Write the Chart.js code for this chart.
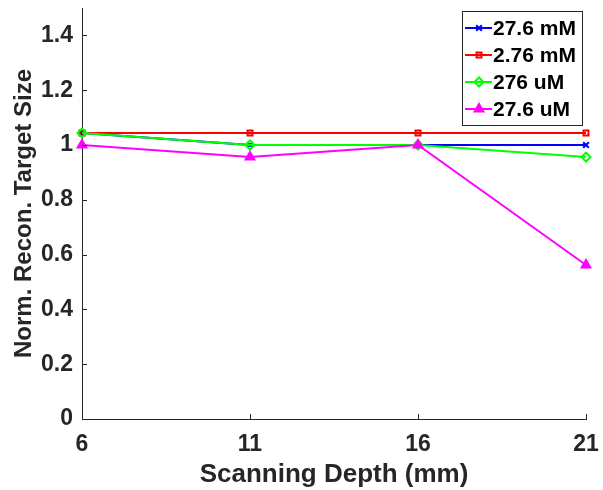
<!DOCTYPE html>
<html>
<head>
<meta charset="utf-8">
<script src="https://cdn.jsdelivr.net/npm/chart.js@4.4.1/dist/chart.umd.min.js"></script>
<style>
  html, body { margin: 0; padding: 0; background: #fff; }
  #wrap { width: 603px; height: 490px; }
</style>
</head>
<body>
<div id="wrap"><canvas id="myChart" width="603" height="490"></canvas></div>
<script>
// data
var depths = [6, 11, 16, 21];
var s276mM = [1.044, 1.0, 1.0, 1.0];
var s276mMb = [1.044, 1.044, 1.044, 1.044];
var s276uM = [1.044, 1.0, 1.0, 0.956];
var s276uMb = [1.0, 0.956, 1.0, 0.562];
var seriesNames = ["27.6 mM", "2.76 mM", "276 uM", "27.6 uM"];
var xTicks = [6, 11, 16, 21];
var yTicks = [0, 0.2, 0.4, 0.6, 0.8, 1, 1.2, 1.4];

var axisColor = "#262626";
var fontFam = "'Liberation Sans', Arial, sans-serif";

function pts(vals) {
  return vals.map(function (v, i) { return { x: depths[i], y: v }; });
}

var styles = [
  { color: "#0000ff", point: "crossRot", radius: 4, fill: false },
  { color: "#ff0000", point: "rect", radius: 3.5, fill: false },
  { color: "#00ff00", point: "rectRot", radius: 4.5, fill: false },
  { color: "#ff00ff", point: "triangle", radius: 5, fill: true },
];
var values = [s276mM, s276mMb, s276uM, s276uMb];

// later series drawn on top, like matlab
var datasets = values.map(function (vals, i) {
  var st = styles[i];
  return {
    label: seriesNames[i],
    data: pts(vals),
    order: -i,
    borderColor: st.color,
    backgroundColor: st.fill ? st.color : "#ffffff",
    pointBorderColor: st.color,
    pointBackgroundColor: st.fill ? st.color : "rgba(0,0,0,0)",
    pointStyle: st.point,
    pointRadius: st.radius,
    pointBorderWidth: 2,
    borderWidth: 2,
    tension: 0,
    clip: false,
  };
});

// inward tick marks like matlab
var innerTicks = {
  id: "innerTicks",
  afterDraw: function (chart) {
    var c = chart.ctx;
    var xs = chart.scales.x, ys = chart.scales.y;
    var a = chart.chartArea;
    c.save();
    c.strokeStyle = axisColor;
    c.lineWidth = 1;
    c.beginPath();
    xTicks.forEach(function (t) {
      var px = Math.round(xs.getPixelForValue(t)) + 0.5;
      c.moveTo(px, a.bottom);
      c.lineTo(px, a.bottom - 5);
    });
    yTicks.forEach(function (t) {
      var py = Math.round(ys.getPixelForValue(t)) + 0.5;
      c.moveTo(a.left, py);
      c.lineTo(a.left + 5, py);
    });
    c.stroke();
    c.restore();
  },
};

// boxed legend inside the plot, top right
var boxLegend = {
  id: "boxLegend",
  afterDraw: function (chart) {
    var c = chart.ctx;
    var x0 = 462, y0 = 11, w = 120, h = 114;
    c.save();
    c.fillStyle = "#ffffff";
    c.fillRect(x0, y0, w, h);
    c.strokeStyle = "#262626";
    c.lineWidth = 1;
    c.strokeRect(x0 + 0.5, y0 + 0.5, w, h);
    c.font = "bold 21px " + fontFam;
    c.textBaseline = "middle";
    c.textAlign = "left";
    seriesNames.forEach(function (name, i) {
      var st = styles[i];
      var yy = y0 + 17 + i * 27;
      c.strokeStyle = st.color;
      c.lineWidth = 2;
      c.beginPath();
      c.moveTo(x0 + 3, yy);
      c.lineTo(x0 + 30, yy);
      c.stroke();
      c.fillStyle = st.fill ? st.color : "rgba(0,0,0,0)";
      Chart.helpers.drawPoint(c, { pointStyle: st.point, radius: st.radius, borderWidth: 2 }, x0 + 17, yy);
      c.fillStyle = "#000000";
      c.fillText(name, x0 + 31, yy + 1);
    });
    c.restore();
  },
};

new Chart(document.getElementById("myChart"), {
  type: "line",
  data: { datasets: datasets },
  options: {
    responsive: false,
    animation: false,
    devicePixelRatio: 1,
    layout: { padding: { top: 8, right: 17, left: 0, bottom: 0 } },
    plugins: {
      legend: { display: false },
      tooltip: { enabled: false },
    },
    scales: {
      x: {
        type: "linear",
        min: 6,
        max: 21,
        afterBuildTicks: function (s) { s.ticks = xTicks.map(function (v) { return { value: v }; }); },
        afterFit: function (s) { s.height = 71; s.paddingLeft = 0; s.paddingRight = 0; },
        grid: { drawOnChartArea: false, drawTicks: false },
        border: { display: true, color: axisColor, width: 1 },
        ticks: { color: "#262626", padding: 12, maxRotation: 0, font: { family: fontFam, size: 23, weight: "bold" } },
        title: {
          display: true,
          text: "Scanning Depth (mm)",
          color: "#262626",
          padding: { top: 0, bottom: 0 },
          font: { family: fontFam, size: 26, weight: "bold" },
        },
      },
      y: {
        min: 0,
        max: 1.5,
        afterBuildTicks: function (s) { s.ticks = yTicks.map(function (v) { return { value: v }; }); },
        afterFit: function (s) { s.width = 82; s.paddingTop = 0; s.paddingBottom = 0; },
        grid: { drawOnChartArea: false, drawTicks: false },
        border: { display: true, color: axisColor, width: 1 },
        ticks: {
          color: "#262626",
          padding: 9,
          font: { family: fontFam, size: 23, weight: "bold" },
          callback: function (v) { return String(Math.round(v * 10) / 10); },
        },
        title: {
          display: true,
          text: "Norm. Recon. Target Size",
          color: "#262626",
          padding: { top: 10, bottom: 0 },
          font: { family: fontFam, size: 24, weight: "bold" },
        },
      },
    },
  },
  plugins: [innerTicks, boxLegend],
});
</script>
</body>
</html>
